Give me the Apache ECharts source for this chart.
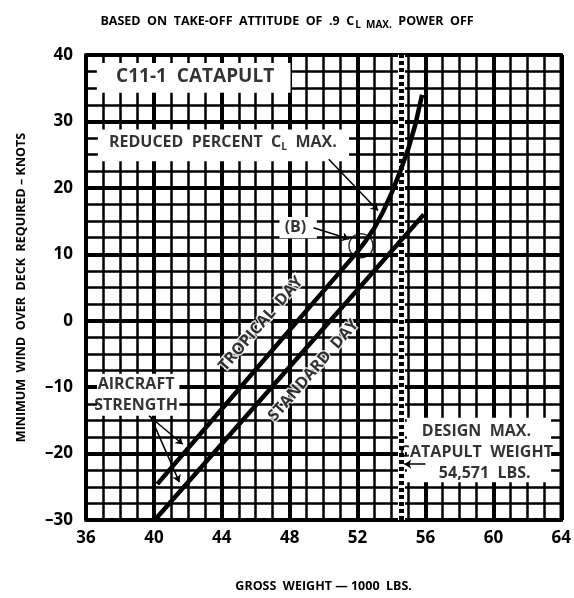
<!DOCTYPE html>
<html>
<head>
<meta charset="utf-8">
<script src="https://cdn.jsdelivr.net/npm/echarts@6/dist/echarts.min.js"></script>
<style>html,body{margin:0;padding:0;background:#fff;}#chart{width:574px;height:598px;}</style>
</head>
<body>
<div id="chart"></div>
<script>
// ---- data ----
const xRange = [36, 64];
const yRange = [-30, 40];
const tropicalX = [40.2, 44, 48, 52, 52.5, 53, 53.5, 54, 54.5, 55, 55.4, 55.8];
const tropicalY = [-24.6, -13.3, -1.4, 10.4, 12.1, 14.0, 16.4, 19.2, 22.4, 26.0, 29.5, 34.0];
const standardX = [40.05, 55.9];
const standardY = [-30, 16.0];
const designMaxWeight = 54.571;
const pointB = [52.2, 11.3];
const titleText = 'BASED  ON  TAKE-OFF  ATTITUDE  OF  .9  C';
const xAxisName = 'GROSS  WEIGHT \u2014 1000  LBS.';
const yAxisName = 'MINIMUM  WIND  OVER  DECK  REQUIRED \u2013 KNOTS';

const FONT = 'Open Sans';
const chart = echarts.init(document.getElementById('chart'));

const boxes = [
  [[36.64, 38.8], [48.05, 34.3]],
  [[36.7, 28.8], [51.5, 24.0]],
  [[47.4, 15.6], [49.6, 12.4]],
  [[36.65, -8.0], [41.5, -14.3]],
  [[54.9, -14.6], [63.4, -24.3]]
];

const txt = (x, y, text, extra) => ({
  value: [x, y],
  label: Object.assign({ show: true, formatter: text, position: 'inside' }, extra || {})
});

const halo = { textBorderColor: '#fff', textBorderWidth: 3 };

const labelData = [
  txt(42.43, 36.7, 'C11-1  CATAPULT', { fontSize: 19 }),
  txt(37.35, 26.85, '{m|REDUCED  PERCENT  C}{s|L}{m|  MAX.}', { align: 'left' }),
  txt(48.34, 14.1, '(B)'),
  txt(38.95, -11.2, 'AIRCRAFT\nSTRENGTH', { lineHeight: 21 }),
  txt(59.0, -19.8, 'DESIGN  MAX.\nCATAPULT  WEIGHT\n    54,571  LBS.', { lineHeight: 21 }),
  txt(46.3, -0.5, 'TROPICAL  DAY', Object.assign({ rotate: 49 }, halo)),
  txt(49.4, -7.5, 'STANDARD  DAY', Object.assign({ rotate: 49 }, halo))
];

const arrow = (a, b) => [{ coord: a, symbol: 'none' }, { coord: b, symbol: 'arrow' }];

const option = {
  backgroundColor: '#fff',
  animation: false,
  title: {
    text: '{a|' + titleText + '}{s|L  MAX.}{a|  POWER  OFF}',
    left: 'center',
    top: 8,
    textStyle: {
      rich: {
        a: { fontFamily: FONT, fontWeight: 'bold', fontSize: 12.5, color: '#000' },
        s: { fontFamily: FONT, fontWeight: 'bold', fontSize: 10, color: '#000', padding: [7, 0, 0, 1] }
      }
    }
  },
  grid: { left: 86, right: 9, top: 55, bottom: 75, show: true, borderColor: '#000', borderWidth: 3.5, backgroundColor: '#fff' },
  xAxis: {
    type: 'value', min: xRange[0], max: xRange[1], interval: 4,
    name: xAxisName, nameLocation: 'middle', nameGap: 60,
    nameTextStyle: { fontFamily: FONT, fontWeight: 'bold', fontSize: 12.5, color: '#000' },
    axisLine: { show: false }, axisTick: { show: false },
    axisLabel: { fontFamily: FONT, fontWeight: 'bold', fontSize: 17, color: '#000', margin: 10 },
    splitLine: { show: true, lineStyle: { color: '#000', width: 4 } },
    minorTick: { show: false, splitNumber: 4 },
    minorSplitLine: { show: true, lineStyle: { color: '#000', width: 2.5 } }
  },
  yAxis: {
    type: 'value', min: yRange[0], max: yRange[1], interval: 10,
    name: yAxisName, nameLocation: 'middle', nameGap: 58,
    nameTextStyle: { fontFamily: FONT, fontWeight: 'bold', fontSize: 12.5, color: '#000' },
    axisLine: { show: false }, axisTick: { show: false },
    axisLabel: { fontFamily: FONT, fontWeight: 'bold', fontSize: 17, color: '#000', margin: 13,
      formatter: v => v < 0 ? '\u2013' + Math.abs(v) : String(v) },
    splitLine: { show: true, lineStyle: { color: '#000', width: 4 } },
    minorTick: { show: false, splitNumber: 4 },
    minorSplitLine: { show: true, lineStyle: { color: '#000', width: 2.5 } }
  },
  series: [
    {
      name: 'boxes', type: 'line', data: [], z: 2, silent: true,
      markArea: {
        silent: true,
        itemStyle: { color: '#fff', opacity: 1 },
        label: { show: false },
        data: boxes.map(b => [{ coord: b[0] }, { coord: b[1] }])
      }
    },
    {
      name: 'design', type: 'line', data: [], z: 3, silent: true,
      markLine: {
        silent: true, symbol: 'none', label: { show: false },
        data: [
          { xAxis: designMaxWeight, lineStyle: { color: '#fff', width: 7, type: 'solid' } },
          { xAxis: designMaxWeight, lineStyle: { color: '#000', width: 5, type: [4, 3] } }
        ]
      }
    },
    {
      name: 'Standard day', type: 'line', z: 5, showSymbol: false, silent: true,
      data: standardX.map((x, i) => [x, standardY[i]]),
      lineStyle: { color: '#000', width: 4.5 }
    },
    {
      name: 'Tropical day', type: 'line', z: 5, showSymbol: false, silent: true,
      data: tropicalX.map((x, i) => [x, tropicalY[i]]),
      lineStyle: { color: '#000', width: 4.5, join: 'round' }
    },
    {
      name: 'leaders', type: 'line', data: [], z: 6, silent: true,
      markLine: {
        silent: true, symbolSize: 7, label: { show: false },
        lineStyle: { color: '#000', width: 1.5, type: 'solid' },
        data: [
          arrow([50.3, 24.3], [53.2, 16.6]),
          arrow([49.4, 14.0], [51.5, 12.3]),
          arrow([39.7, -14.3], [41.7, -18.6]),
          arrow([39.8, -14.4], [41.5, -24.3]),
          arrow([56.0, -21.6], [54.75, -21.6])
        ]
      }
    },
    {
      name: 'B', type: 'scatter', z: 6, silent: true,
      data: [pointB], symbol: 'circle', symbolSize: 24,
      itemStyle: { color: 'rgba(0,0,0,0)', borderColor: '#000', borderWidth: 1.5 }
    },
    {
      name: 'labels', type: 'scatter', z: 7, silent: true, symbolSize: 0,
      data: labelData,
      label: {
        show: true, color: '#000', fontFamily: FONT, fontWeight: 'bold', fontSize: 16,
        rich: {
          m: { fontFamily: FONT, fontWeight: 'bold', fontSize: 16, color: '#000' },
          s: { fontFamily: FONT, fontWeight: 'bold', fontSize: 10.5, color: '#000', padding: [9, 0, 0, 0] }
        }
      }
    }
  ]
};
chart.setOption(option);
</script>
</body>
</html>
